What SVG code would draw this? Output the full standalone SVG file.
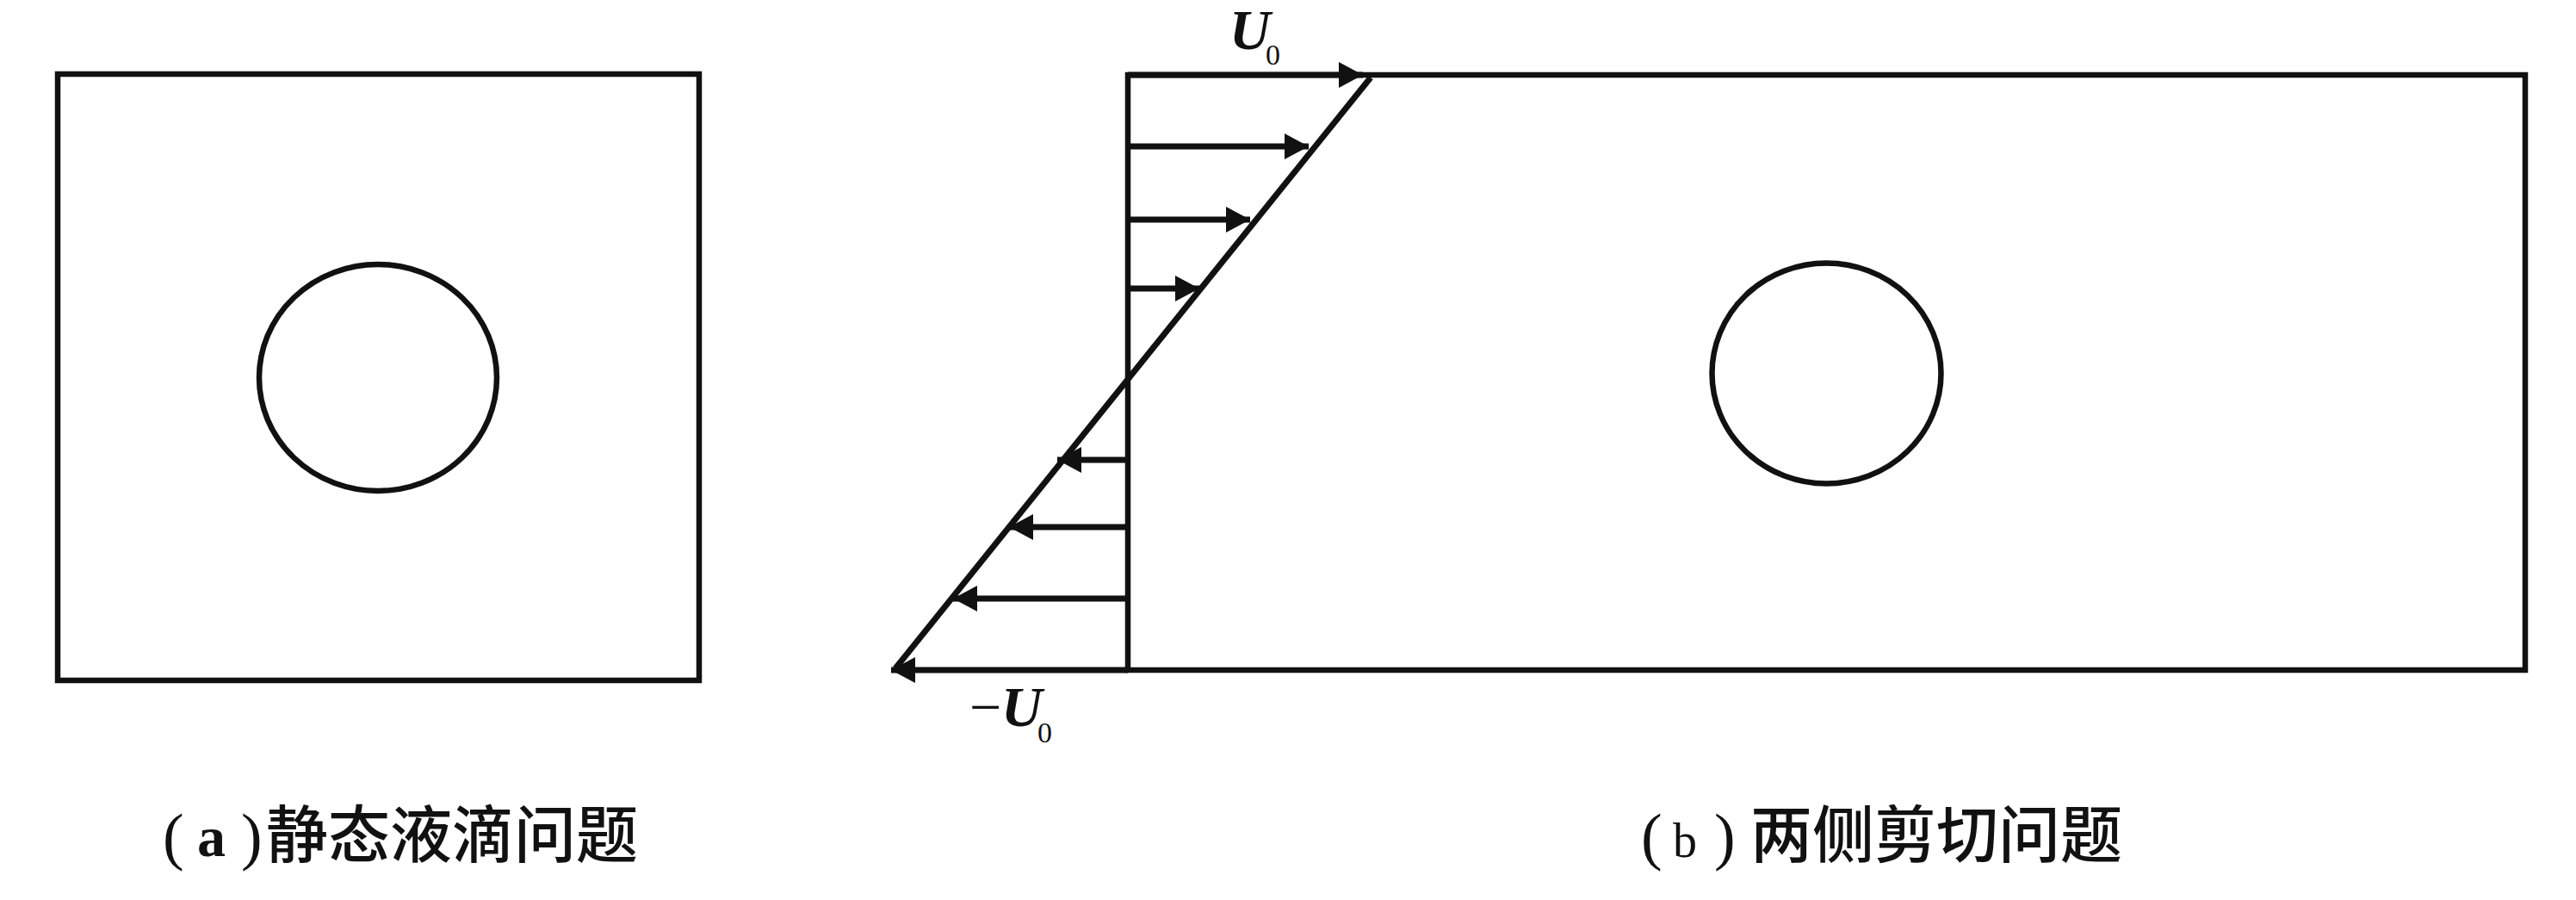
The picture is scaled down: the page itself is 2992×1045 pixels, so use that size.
<svg xmlns="http://www.w3.org/2000/svg" width="2992" height="1045" viewBox="0 0 2992 1045">
<style>
.frame{fill:none;stroke:#111;stroke-width:6.5}
.drop{fill:none;stroke:#111;stroke-width:6.5}
.arr{fill:none;stroke:#111;stroke-width:7;marker-end:url(#ah)}
.sym{font-family:"Liberation Serif","Times New Roman",serif;fill:#111}
.cap{font-family:"Liberation Serif","Noto Sans CJK SC",serif;fill:#111}
.cjk{font-family:"Noto Sans CJK SC","Noto Sans CJK JP",sans-serif;font-size:72px;fill:#111;font-weight:500}
</style>
<defs>
<marker id="ah" markerUnits="userSpaceOnUse" markerWidth="30" markerHeight="30" refX="28" refY="15" orient="auto">
<path d="M0,0 L28,15 L0,30 Z" fill="#111"/>
</marker>
</defs>
<rect width="2992" height="1045" fill="#fff"/>
<g id="panel-a">
<rect class="frame" x="67" y="86" width="745" height="704"/>
<ellipse class="drop" cx="439" cy="438.5" rx="138" ry="131.5"/>
</g>
<g id="panel-b">
<rect class="frame" x="1310" y="87" width="1623" height="691"/>
<ellipse class="drop" cx="2121.5" cy="433.5" rx="133" ry="128"/>
</g>
<g id="connectors">
<line x1="1592" y1="90" x2="1040" y2="776" stroke="#111" stroke-width="7"/>
<line class="arr" x1="1310" y1="87" x2="1583" y2="87"/>
<line class="arr" x1="1310" y1="170" x2="1520" y2="170"/>
<line class="arr" x1="1310" y1="255" x2="1452" y2="255"/>
<line class="arr" x1="1310" y1="335" x2="1393" y2="335"/>
<line class="arr" x1="1310" y1="534" x2="1228" y2="534"/>
<line class="arr" x1="1310" y1="612" x2="1172" y2="612"/>
<line class="arr" x1="1310" y1="695" x2="1107" y2="695"/>
<line class="arr" x1="1310" y1="778" x2="1035" y2="778"/>
</g>
<g id="labels">
<text class="sym" x="1428" y="57" font-size="66" font-style="italic" font-weight="bold">U</text>
<text class="sym" x="1470" y="75" font-size="34">0</text>
<text class="sym" x="1126" y="843" font-size="66">−</text>
<text class="sym" x="1163" y="843" font-size="66" font-style="italic" font-weight="bold">U</text>
<text class="sym" x="1205" y="862" font-size="34">0</text>
</g>
<g id="caption-a">
<text class="cap" x="189" y="996" font-size="74">(</text>
<text class="cap" x="229" y="994" font-size="66" font-weight="bold">a</text>
<text class="cap" x="280" y="996" font-size="74">)</text>
<text class="cjk" x="309" y="995">静态液滴问题</text>
</g>
<g id="caption-b">
<text class="cap" x="1906" y="996" font-size="74">(</text>
<text class="cap" x="1943" y="995" font-size="56">b</text>
<text class="cap" x="1991" y="996" font-size="74">)</text>
<text class="cjk" x="2033" y="995">两侧剪切问题</text>
</g>
</svg>
